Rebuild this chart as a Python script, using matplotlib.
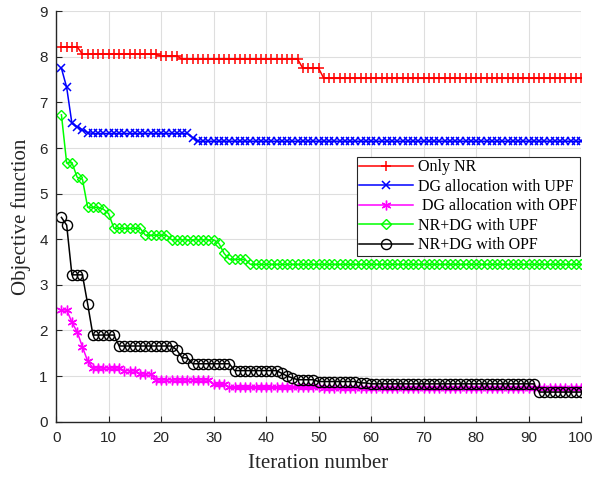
import numpy as np
import matplotlib
matplotlib.use("Agg")
import matplotlib.pyplot as plt

iterations = list(range(1, 101))

only_nr = [8.22]*4 + [8.06]*15 + [8.02]*4 + [7.95]*23 + [7.75]*4 + [7.53]*50
dg_upf = [7.75, 7.33, 6.54, 6.47, 6.40, 6.34] + [6.32]*19 + [6.23] + [6.15]*74
dg_opf = [2.45, 2.45, 2.18, 1.97, 1.64, 1.33] + [1.18]*6 + [1.12]*3 + [1.05]*3 \
    + [0.92]*11 + [0.82]*3 + [0.75]*18 + [0.73]*50
nr_dg_upf = [6.73, 5.67, 5.68, 5.36, 5.32, 4.70, 4.70, 4.70, 4.66, 4.56] \
    + [4.24]*6 + [4.09]*5 + [3.99]*9 + [3.91, 3.69] + [3.56]*4 + [3.45]*64
nr_dg_opf = [4.48, 4.31, 3.22, 3.22, 3.22, 2.58] + [1.90]*5 + [1.66]*11 + [1.57] \
    + [1.40]*2 + [1.27]*8 + [1.12]*9 + [1.06, 1.00, 0.96] + [0.92]*4 + [0.88]*8 \
    + [0.85]*2 + [0.83]*32 + [0.65]*9

labels = ["Only NR", "DG allocation with UPF", " DG allocation with OPF",
          "NR+DG with UPF", "NR+DG with OPF"]
xticks = list(range(0, 101, 10))
yticks = list(range(0, 10))

fig = plt.figure(figsize=(6.08, 4.78), dpi=100)
ax = fig.add_axes([0.0924, 0.1178, 0.8632, 0.8586])

axc = '#262626'
ax.plot(iterations, only_nr, color='red', marker='+', ms=7, mew=1.1, lw=1.1, label=labels[0])
ax.plot(iterations, dg_upf, color='blue', marker='x', ms=5.5, mew=1.1, lw=1.1, label=labels[1])
ax.plot(iterations, dg_opf, color='magenta', marker=(6, 2, 0), ms=7, mew=1.0, lw=1.1, label=labels[2])
ax.plot(iterations, nr_dg_upf, color='#00ff00', marker='D', ms=5.5, mew=1.0, mfc='none', lw=1.1, label=labels[3])
ax.plot(iterations, nr_dg_opf, color='black', marker='o', ms=7.3, mew=1.0, mfc='none', lw=1.1, label=labels[4])

ax.set_xlim(0, 100)
ax.set_ylim(0, 9)
ax.set_xticks(xticks)
ax.set_yticks(yticks)
ax.grid(True, color='#dedede', lw=0.8)
ax.set_axisbelow(True)
for s in ['top', 'right']:
    ax.spines[s].set_visible(False)
for s in ['left', 'bottom']:
    ax.spines[s].set_color(axc)
    ax.spines[s].set_linewidth(1.0)
ax.tick_params(direction='in', length=4, width=0.8, colors=axc, labelsize=11)
ax.tick_params(axis='x', pad=7)
ax.tick_params(axis='y', pad=6)
for t in ax.get_xticklabels() + ax.get_yticklabels():
    t.set_fontfamily('Liberation Sans')

ax.set_xlabel('Iteration number', fontfamily='Liberation Serif', fontsize=15, color=axc, labelpad=6)
ax.set_ylabel('Objective function', fontfamily='Liberation Serif', fontsize=15, color=axc, labelpad=6)

leg = ax.legend(loc='upper right', bbox_to_anchor=(0.998, 0.645), prop={'family': 'Liberation Serif', 'size': 11.5},
                handlelength=3.4, handletextpad=0.3, borderpad=0.15, labelspacing=0.22,
                fancybox=False, framealpha=1, edgecolor=axc, borderaxespad=0)
leg.get_frame().set_linewidth(0.8)

fig.savefig('out.png', dpi=100)
